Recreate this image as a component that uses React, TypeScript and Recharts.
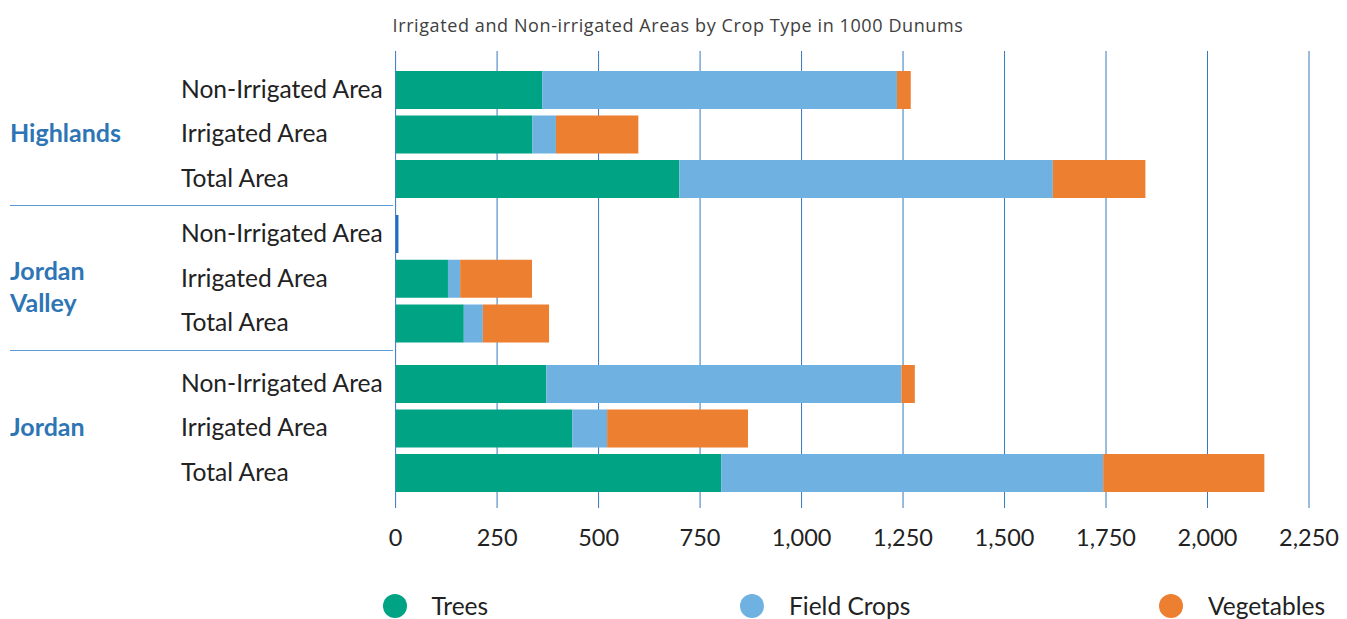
import React from "react";
import { BarChart, Bar, XAxis, YAxis, CartesianGrid, Legend, Cell } from "recharts";

// ---- data ----
const rowLabels = ["Non-Irrigated Area", "Irrigated Area", "Total Area"];
const seriesNames = ["Trees", "Field Crops", "Vegetables"];
const seriesColors = ["#00a383", "#6fb2e2", "#ed7f30"];
const xTicks = [0, 250, 500, 750, 1000, 1250, 1500, 1750, 2000, 2250];

const highlandsTrees = [361, 337, 699];
const highlandsField = [874, 58, 920];
const highlandsVeg = [34, 203, 228];

const valleyTrees = [0, 129, 168];
const valleyField = [7, 30, 47];
const valleyVeg = [0, 177, 163];

const jordanTrees = [371, 435, 802];
const jordanField = [875, 86, 941];
const jordanVeg = [33, 347, 397];

const groupNames = [["Highlands"], ["Jordan", "Valley"], ["Jordan"]];
const title = "Irrigated and Non-irrigated Areas by Crop Type in 1000 Dunums";

const build = (t: number[], f: number[], v: number[]) =>
  rowLabels.map((row, i) => ({ row, trees: t[i], field: f[i], veg: v[i] }));

const FONT = "Lato, 'Open Sans', sans-serif";
const W = 1347;
const PLOT_LEFT = 395.6;
const RIGHT = 38;

const RowTick = (props: any) => {
  const { y, payload, group } = props;
  const index = props.index ?? payload?.index;
  const lines: string[] = groupNames[group];
  return (
    <g>
      <text x={181} y={y} dy="0.3em" fontSize={24.6} fill="#222" fontFamily={FONT}>
        {payload.value}
      </text>
      {index === 1 &&
        lines.map((ln, k) => (
          <text
            key={k}
            x={10}
            y={lines.length === 2 ? y - 8 + k * 32 : y - 1}
            dy="0.34em"
            fontSize={25}
            fontWeight={700}
            fill="#2e75b6"
            fontFamily={FONT}
          >
            {ln}
          </text>
        ))}
    </g>
  );
};

const GroupChart = ({ data, top, height, group, sliverColor }: any) => (
  <div style={{ position: "absolute", left: 0, top }}>
    <BarChart
      layout="vertical"
      width={W}
      height={height}
      data={data}
      margin={{ top: 0, right: RIGHT, left: 0, bottom: 0 }}
      barSize={38}
    >
      <XAxis type="number" domain={[0, 2250]} allowDataOverflow hide />
      <YAxis
        type="category"
        dataKey="row"
        width={PLOT_LEFT}
        axisLine={false}
        tickLine={false}
        interval={0}
        tick={(p: any) => <RowTick {...p} group={group} />}
      />
      <Bar dataKey="trees" stackId="s" fill={seriesColors[0]} isAnimationActive={false} />
      <Bar dataKey="field" stackId="s" fill={seriesColors[1]} isAnimationActive={false}>
        {data.map((_: any, i: number) => (
          <Cell key={i} fill={sliverColor && i === 0 ? sliverColor : seriesColors[1]} />
        ))}
      </Bar>
      <Bar dataKey="veg" stackId="s" fill={seriesColors[2]} isAnimationActive={false} />
    </BarChart>
  </div>
);

const LegendContent = () => {
  const lefts = [382.5, 740, 1159];
  return (
    <div style={{ position: "relative", width: W, height: 40 }}>
      {seriesNames.map((n, i) => (
        <div key={n} style={{ position: "absolute", left: lefts[i], top: 14, height: 26, display: "flex", alignItems: "center" }}>
          <div style={{ width: 24, height: 24, borderRadius: 12, background: seriesColors[i] }} />
          <span style={{ marginLeft: 25, fontSize: 24.5, color: "#222", fontFamily: FONT, lineHeight: "26px" }}>{n}</span>
        </div>
      ))}
    </div>
  );
};

export default function App() {
  return (
    <div style={{ position: "absolute", left: 0, top: 0, width: W, height: 619, background: "#fff", fontFamily: FONT, overflow: "hidden" }}>
      <svg width={W} height={50} style={{ position: "absolute", left: 0, top: 0 }}>
        <text x={678} y={31.5} textAnchor="middle" fontSize={18} letterSpacing={0.6} fill="#404040" fontFamily="'Open Sans', sans-serif">
          {title}
        </text>
      </svg>
      <div style={{ position: "absolute", left: 0, top: 0 }}>
        <BarChart layout="vertical" width={W} height={619} data={build(jordanTrees, jordanField, jordanVeg)} margin={{ top: 51, right: RIGHT, left: PLOT_LEFT, bottom: 0 }}>
          <CartesianGrid horizontal={false} vertical stroke="#3478be" strokeWidth={1} />
          <XAxis
            type="number"
            domain={[0, 2250]}
            allowDataOverflow
            ticks={xTicks}
            interval={0}
            height={80}
            tickSize={9}
            tickMargin={21}
            axisLine={false}
            tickLine={{ stroke: "#3478be" }}
            tick={{ fontSize: 23.5, fill: "#222", fontFamily: FONT }}
            tickFormatter={(v: number) => v.toLocaleString("en-US")}
          />
          <YAxis type="category" dataKey="row" hide />
          <Legend verticalAlign="bottom" height={40} wrapperStyle={{ left: 0, width: W, height: 40 }} content={() => <LegendContent />} />
        </BarChart>
      </div>
      <div style={{ position: "absolute", left: 10, top: 205, width: 383, height: 1, background: "#5b9bd5" }} />
      <div style={{ position: "absolute", left: 10, top: 349.5, width: 383, height: 1, background: "#5b9bd5" }} />
      <GroupChart data={build(highlandsTrees, highlandsField, highlandsVeg)} top={67.75} height={133.5} group={0} />
      <GroupChart data={build(valleyTrees, valleyField, valleyVeg)} top={212.1} height={134.25} group={1} sliverColor="#1f6fc0" />
      <GroupChart data={build(jordanTrees, jordanField, jordanVeg)} top={361.7} height={133.5} group={2} />
    </div>
  );
}
